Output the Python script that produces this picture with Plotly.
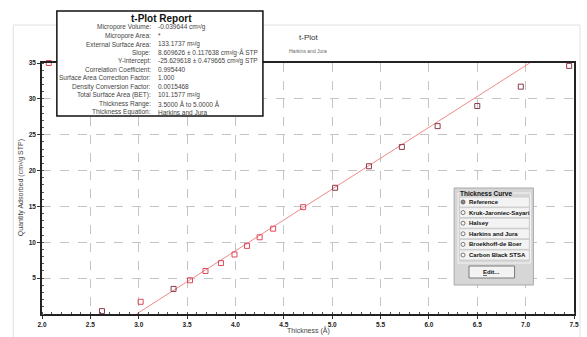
import plotly.graph_objects as go

# ---------------- data ----------------
thickness = [2.07, 2.62, 3.02, 3.36, 3.53, 3.69, 3.85, 3.99, 4.12, 4.25, 4.39,
             4.70, 5.03, 5.38, 5.72, 6.09, 6.50, 6.95, 7.45]
quantity = [35.0, 0.4, 1.7, 3.5, 4.7, 6.0, 7.1, 8.3, 9.5, 10.7, 11.9,
            14.9, 17.6, 20.6, 23.3, 26.2, 29.0, 31.7, 34.6]
slope = 8.609626
intercept = -25.629618
fit_range = [3.5, 5.0]
x_ticks = [2.0, 2.5, 3.0, 3.5, 4.0, 4.5, 5.0, 5.5, 6.0, 6.5, 7.0, 7.5]
y_ticks = [5, 10, 15, 20, 25, 30, 35]

report_labels = ["Micropore Volume:", "Micropore Area:", "External Surface Area:",
                 "Slope:", "Y-Intercept:", "Correlation Coefficient:",
                 "Surface Area Correction Factor:", "Density Conversion Factor:",
                 "Total Surface Area (BET):", "Thickness Range:", "Thickness Equation:"]
report_values = ["-0.039644 cm³/g", "*", "133.1737 m²/g",
                 "8.609626 ± 0.117638 cm³/g·Å STP", "-25.629618 ± 0.479665 cm³/g STP",
                 "0.995440", "1.000", "0.0015468", "101.1577 m²/g",
                 "3.5000 Å to 5.0000 Å", "Harkins and Jura"]
curve_options = ["Reference", "Kruk-Jaroniec-Sayari", "Halsey", "Harkins and Jura",
                 "Broekhoff-de Boer", "Carbon Black STSA"]

# ---------------- layout helpers ----------------
W, H = 587, 337
L, R, T, B = 42, 579, 63, 314


def px(x):
    return (x - L) / (R - L)


def py(y):
    return (B - y) / (B - T)


FONT = "Liberation Sans, Arial, sans-serif"

fig = go.Figure()

# fit line
y_lo, y_hi = 0, 35
x_lo = (y_lo - intercept) / slope
x_hi = (y_hi - intercept) / slope
fig.add_trace(go.Scatter(x=[x_lo, x_hi], y=[slope * x_lo + intercept, slope * x_hi + intercept],
                         mode="lines", line=dict(color="#f08a8a", width=1),
                         hoverinfo="skip", showlegend=False))

colors = ["#e0485a" if (fit_range[0] <= t <= fit_range[1] or t < 2.5 or abs(t - 3.02) < 0.01)
          else "#8c3a4a" for t in thickness]
fig.add_trace(go.Scatter(x=thickness, y=quantity, mode="markers",
                         marker=dict(symbol="square-open", size=5, color=colors,
                                     line=dict(width=1, color=colors)),
                         cliponaxis=False, showlegend=False))

shapes = []
ann = []

# outer faint frame
shapes.append(dict(type="rect", xref="paper", yref="paper", x0=px(13), x1=px(585),
                   y0=py(345), y1=py(25), line=dict(color="#e2e2e2", width=1),
                   fillcolor="rgba(0,0,0,0)", layer="below"))

# report box
shapes.append(dict(type="rect", xref="paper", yref="paper", x0=px(57), x1=px(265),
                   y0=py(116), y1=py(11), line=dict(color="#111111", width=1.5),
                   fillcolor="white", layer="above"))
ann.append(dict(text="<b>t-Plot Report</b>", x=px(163), y=py(19), xref="paper", yref="paper",
                showarrow=False, xanchor="center", yanchor="middle",
                font=dict(family=FONT, size=10, color="#111")))
for i, (lab, val) in enumerate(zip(report_labels, report_values)):
    yy = py(27 + i * 8.5)
    ann.append(dict(text=lab, x=px(154), y=yy, xref="paper", yref="paper", showarrow=False,
                    xanchor="right", yanchor="middle",
                    font=dict(family=FONT, size=6.5, color="#444")))
    ann.append(dict(text=val, x=px(157), y=yy, xref="paper", yref="paper", showarrow=False,
                    xanchor="left", yanchor="middle",
                    font=dict(family=FONT, size=6.5, color="#444")))

# chart title
ann.append(dict(text="t-Plot", x=px(311), y=py(37), xref="paper", yref="paper", showarrow=False,
                xanchor="center", yanchor="middle", font=dict(family=FONT, size=8, color="#333")))
ann.append(dict(text="Harkins and Jura", x=px(311), y=py(51), xref="paper", yref="paper",
                showarrow=False, xanchor="center", yanchor="middle",
                font=dict(family=FONT, size=5, color="#666")))

# thickness curve panel
shapes.append(dict(type="rect", xref="paper", yref="paper", x0=px(458), x1=px(538),
                   y0=py(285), y1=py(188), line=dict(color="#a8a8a8", width=1),
                   fillcolor="#d6d6d6", layer="above"))
shapes.append(dict(type="rect", xref="paper", yref="paper", x0=px(462), x1=px(535),
                   y0=py(263), y1=py(193), line=dict(color="#f4f4f4", width=1),
                   fillcolor="#d6d6d6", layer="above"))
ann.append(dict(text="<b>Thickness Curve</b>", x=px(463), y=py(193), xref="paper", yref="paper",
                showarrow=False, xanchor="left", yanchor="middle", bgcolor="#d6d6d6",
                font=dict(family=FONT, size=6.5, color="#111"), borderpad=0))
for i, opt in enumerate(curve_options):
    top = 197 + i * 10.6
    shapes.append(dict(type="rect", xref="paper", yref="paper", x0=px(463.5), x1=px(534),
                       y0=py(top + 10), y1=py(top), line=dict(color="#c8c8c8", width=0.8),
                       fillcolor="#f3f3f3", layer="above"))
    cy = top + 5
    shapes.append(dict(type="circle", xref="paper", yref="paper", x0=px(465), x1=px(469),
                       y0=py(cy + 2), y1=py(cy - 2), line=dict(color="#555", width=0.8),
                       fillcolor="#ffffff" if i else "#888888", layer="above"))
    ann.append(dict(text="<b>" + opt + "</b>", x=px(471), y=py(cy), xref="paper", yref="paper",
                    showarrow=False, xanchor="left", yanchor="middle",
                    font=dict(family=FONT, size=6, color="#111")))
shapes.append(dict(type="rect", xref="paper", yref="paper", x0=px(473), x1=px(519),
                   y0=py(278), y1=py(266), line=dict(color="#7a7a7a", width=1),
                   fillcolor="#f3f3f3", layer="above"))
ann.append(dict(text="<b><u>E</u>dit...</b>", x=px(496), y=py(272), xref="paper", yref="paper",
                showarrow=False, xanchor="center", yanchor="middle",
                font=dict(family=FONT, size=6, color="#111")))

# axis titles
ann.append(dict(text="Thickness (Å)", x=px(311), y=py(330), xref="paper", yref="paper",
                showarrow=False, xanchor="center", yanchor="middle",
                font=dict(family=FONT, size=7, color="#444")))
ann.append(dict(text="Quantity Adsorbed (cm³/g STP)", x=px(21), y=py(188), xref="paper",
                yref="paper", showarrow=False, xanchor="center", yanchor="middle", textangle=-90,
                font=dict(family=FONT, size=7, color="#444")))

axis_common = dict(showline=True, linecolor="#222", linewidth=1.5, mirror=True,
                   showgrid=True, gridcolor="#c4c4c4", griddash="dash", gridwidth=1,
                   zeroline=False, ticks="outside", ticklen=3, tickcolor="#333",
                   tickfont=dict(family=FONT, size=6.5, color="#222"),
                   minor=dict(ticks="inside", ticklen=2, tickcolor="#555", showgrid=False))

fig.update_xaxes(range=[x_ticks[0], x_ticks[-1]], tickvals=x_ticks,
                 ticktext=[f"<b>{v:.1f}</b>" for v in x_ticks], minor_dtick=0.1, **axis_common)
fig.update_yaxes(range=[0, y_ticks[-1]], tickvals=y_ticks,
                 ticktext=[f"<b>{v}</b>" for v in y_ticks], minor_dtick=1, **axis_common)

fig.update_layout(width=W, height=H, margin=dict(l=L, r=W - R, t=T, b=H - B),
                  plot_bgcolor="white", paper_bgcolor="white",
                  shapes=shapes, annotations=ann, showlegend=False)

fig.write_html("out.html", config={"displayModeBar": False},
               post_script="document.body.style.margin='0px';document.body.style.overflow='hidden';")
